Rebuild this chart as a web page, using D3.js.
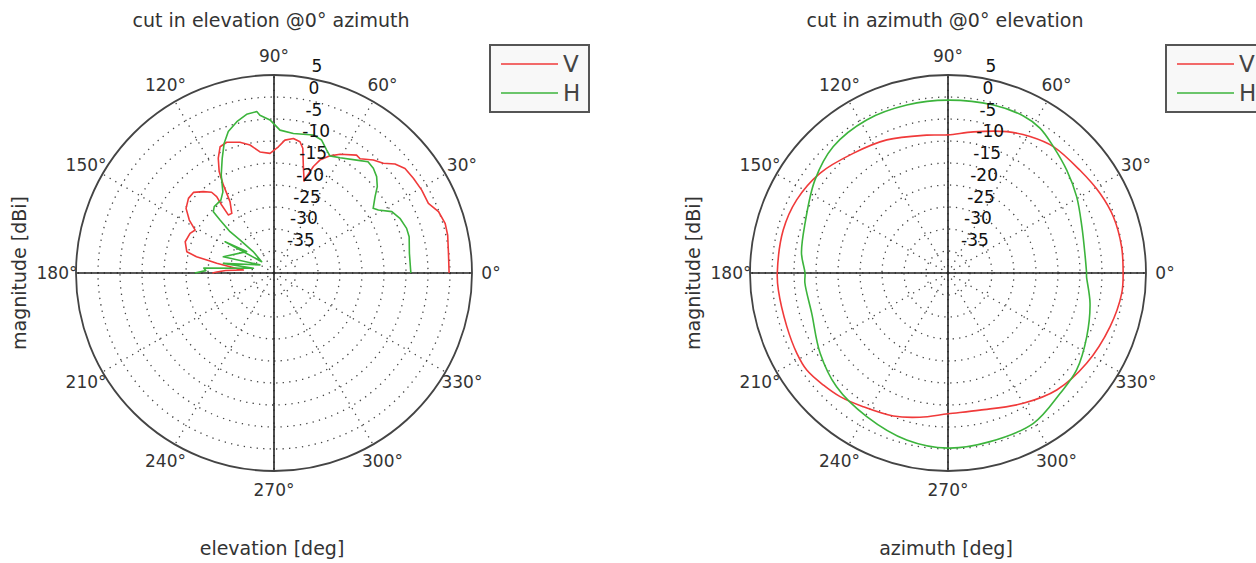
<!DOCTYPE html>
<html>
<head>
<meta charset="utf-8">
<script src="https://cdn.jsdelivr.net/npm/d3@7/dist/d3.min.js"></script>
<style>
  html, body { margin: 0; padding: 0; background: #fff; }
  svg { display: block; }
  text { font-family: "DejaVu Sans", Verdana, sans-serif; }
</style>
</head>
<body>
<svg id="chart" width="1256" height="563"></svg>
<script>
// ---------- data ----------
const seriesNames = ["V", "H"];
const seriesColors = ["#f03a3a", "#3cb43c"];
const radialTicks = [5, 0, -5, -10, -15, -20, -25, -30, -35];
const angleTicks = [0, 30, 60, 90, 120, 150, 180, 210, 240, 270, 300, 330];
const plotTitles = ["cut in elevation @0\u00b0 azimuth", "cut in azimuth @0\u00b0 elevation"];
const xLabels = ["elevation [deg]", "azimuth [deg]"];
const yLabel = "magnitude [dBi]";

// elevation cut, V
const elevVAngle = [0, 6.4, 12.3, 16.2, 20.5, 24.3, 29.3, 34.2, 38.6, 42, 45.1, 48.7, 53, 55, 60.9, 64.5, 67.9, 69.7, 71.3, 71.9, 74.8, 77, 78.8, 81.8, 85.3, 88, 91.9, 96.6, 100.6, 104.6, 109.9, 113.1, 115.9, 118.4, 119.9, 121.7, 125.3, 128.2, 127.6, 126.9, 127.7, 131, 135, 138.9, 143.7, 148, 151.4, 154.7, 160.6, 166.3, 168.1, 169.4, 170.4, 172.7, 174.5, 177, 179, 180];
const elevVMag = [-0.2, -0.1, 0.4, 0.5, -0.1, -1.5, -1.5, -1.7, -1.9, -3.0, -4.8, -5.8, -7.5, -7.3, -9.1, -10.5, -12.3, -14.2, -16.9, -18.0, -14.6, -10.9, -9.6, -9.1, -9.7, -11.3, -12.8, -12.3, -10.4, -9.3, -8.4, -8.8, -11.0, -13.8, -16.9, -21.0, -23.4, -23.2, -20.5, -18.3, -16.8, -15.5, -14.1, -14.2, -15.2, -17.3, -19.6, -18.9, -18.6, -19.6, -22.0, -25.2, -26.8, -31.0, -33.0, -29.0, -27.0, -26.0];
// elevation cut, H
const elevHAngle = [0, 8.3, 15, 18.6, 23.5, 27.5, 31.1, 33.1, 37.1, 39.9, 43.2, 46.5, 49.8, 53.8, 60.2, 64.5, 66.8, 70.3, 74.1, 82.1, 87.6, 91.5, 95.1, 96.1, 99.8, 103.8, 107.9, 111, 114.3, 118.3, 122.2, 126.1, 132, 134.7, 135.5, 136.8, 135.9, 134.2, 137.4, 147.4, 142, 162.2, 150, 169.2, 167, 176, 178, 180];
const elevHMag = [-8.9, -8.9, -8.2, -8.2, -8.8, -9.8, -12.3, -13.1, -11.2, -9.4, -8.0, -7.2, -6.9, -8.2, -9.8, -10.5, -9.6, -7.9, -7.4, -8.0, -7.5, -5.2, -4.0, -3.1, -3.4, -4.6, -6.2, -8.4, -11.4, -14.7, -18.2, -19.5, -19.7, -20.4, -22.8, -26.3, -29.2, -33.2, -36.2, -26.8, -32.1, -27.9, -36.3, -28.3, -35.2, -24.0, -24.5, -22.0];

// azimuth cut, V
const azVAngle = [0, 8.6, 18.8, 27.7, 38, 50.2, 59, 67.4, 79.8, 90, 98.8, 114.7, 128.4, 142.1, 154.2, 165.4, 180, 185.7, 198.4, 208, 214.5, 221.9, 228.9, 237.6, 249.1, 259, 270, 283.1, 300, 312.9, 326.9, 341.7, 353.3, 360];
const azVMag = [-0.2, -0.1, -0.3, -1.0, -2.0, -2.6, -3.8, -5.2, -7.4, -8.6, -8.3, -6.7, -5.3, -3.1, -1.8, -1.3, -1.2, -1.25, -1.4, -1.1, -1.05, -1.9, -2.7, -4.0, -5.2, -6.6, -8.0, -8.0, -5.8, -3.7, -2.4, -1.2, -0.25, -0.2];
// azimuth cut, H
const azHAngle = [0, 6.8, 19.1, 30.7, 40.9, 50.2, 57.6, 64.5, 74.9, 90, 103.8, 118, 132.2, 145, 160.8, 172.3, 180, 184, 196.5, 212.1, 225.6, 240.5, 256.1, 270, 284, 299.6, 312.9, 323, 335.3, 348, 358.5, 360];
const azHMag = [-8.5, -8.6, -7.8, -6.0, -4.3, -2.6, -1.0, -0.4, -0.45, -0.7, -0.7, -0.6, -1.2, -3.1, -5.6, -6.4, -7.5, -7.4, -7.7, -5.7, -3.8, -2.5, -0.9, -0.2, -0.5, -0.7, -2.6, -3.4, -5.3, -7.0, -8.5, -8.5];

// ---------- drawing ----------
const svg = d3.select("#chart");
const R = 198;
const rScale = d3.scaleLinear().domain([-40, 5]).range([0, R]).clamp(true);
const toRad = d => d * Math.PI / 180;

function zipSeries(a, m) { return a.map((v, i) => [v, m[i]]); }

function drawPolar(cx, cy, title, xLabel, series, legendX, curve) {
  const g = svg.append("g");
  const p = g.append("g").attr("transform", `translate(${cx},${cy})`);

  // dotted rings
  p.selectAll("circle.ring").data(radialTicks.filter(v => v < 5)).enter()
    .append("circle")
    .attr("r", d => rScale(d))
    .attr("fill", "none").attr("stroke", "#444").attr("stroke-width", 1.3)
    .attr("stroke-dasharray", "1.3 5.2");

  // dotted spokes
  p.selectAll("line.spoke").data(angleTicks).enter()
    .append("line")
    .attr("x1", 0).attr("y1", 0)
    .attr("x2", d => R * Math.cos(toRad(d)))
    .attr("y2", d => -R * Math.sin(toRad(d)))
    .attr("stroke", "#444").attr("stroke-width", 1.3)
    .attr("stroke-dasharray", "1.3 5.2");

  // solid axes
  p.append("line").attr("x1", -R).attr("x2", R).attr("y1", 0).attr("y2", 0)
    .attr("stroke", "#222").attr("stroke-width", 1.6);
  p.append("line").attr("y1", -R).attr("y2", R).attr("x1", 0).attr("x2", 0)
    .attr("stroke", "#222").attr("stroke-width", 1.6);

  // outer circle
  p.append("circle").attr("r", rScale(5)).attr("fill", "none")
    .attr("stroke", "#444").attr("stroke-width", 1.8);

  // series
  const line = d3.lineRadial()
    .angle(d => toRad(90 - d[0]))
    .radius(d => rScale(d[1]))
    .curve(curve);
  series.forEach((s, i) => {
    p.append("path").attr("d", line(s)).attr("fill", "none")
      .attr("stroke", seriesColors[i]).attr("stroke-width", 1.6)
      .attr("stroke-linejoin", "round");
  });

  // angle labels
  p.selectAll("text.ang").data(angleTicks).enter()
    .append("text")
    .attr("x", d => 217 * Math.cos(toRad(d)))
    .attr("y", d => -217 * Math.sin(toRad(d)))
    .attr("text-anchor", "middle").attr("dominant-baseline", "central")
    .attr("font-size", 17).attr("fill", "#333")
    .text(d => d + "\u00b0");

  // radial labels
  const la = toRad(82);
  p.selectAll("text.rad").data(radialTicks).enter()
    .append("text")
    .attr("x", d => 10 + rScale(d) * Math.cos(la))
    .attr("y", d => -rScale(d) * Math.sin(la) - 5)
    .attr("text-anchor", "start")
    .attr("font-size", 17).attr("fill", "#111")
    .text(d => d);

  // title and axis labels
  g.append("text").attr("x", cx - 3).attr("y", 27).attr("text-anchor", "middle")
    .attr("font-size", 19).attr("fill", "#333").text(title);
  g.append("text").attr("x", cx - 2).attr("y", 555).attr("text-anchor", "middle")
    .attr("font-size", 19).attr("fill", "#333").text(xLabel);
  g.append("text").attr("transform", `translate(${cx - 248},${cy}) rotate(-90)`)
    .attr("text-anchor", "middle").attr("font-size", 19).attr("fill", "#333").text(yLabel);

  // legend
  const lg = g.append("g").attr("transform", `translate(${legendX},45)`);
  lg.append("rect").attr("width", 99).attr("height", 67)
    .attr("fill", "#f8f8f8").attr("stroke", "#555").attr("stroke-width", 2);
  seriesNames.forEach((n, i) => {
    const yy = 19 + i * 29;
    lg.append("line").attr("x1", 11).attr("x2", 68).attr("y1", yy).attr("y2", yy)
      .attr("stroke", seriesColors[i]).attr("stroke-width", 1.6);
    lg.append("text").attr("x", 73).attr("y", yy).attr("dominant-baseline", "central")
      .attr("font-size", 23).attr("fill", "#444").text(n);
  });
}

drawPolar(274, 273, plotTitles[0], xLabels[0],
  [zipSeries(elevVAngle, elevVMag), zipSeries(elevHAngle, elevHMag)], 490, d3.curveLinear);
drawPolar(948, 273, plotTitles[1], xLabels[1],
  [zipSeries(azVAngle, azVMag), zipSeries(azHAngle, azHMag)], 1166, d3.curveCatmullRom.alpha(0.5));
</script>
</body>
</html>
